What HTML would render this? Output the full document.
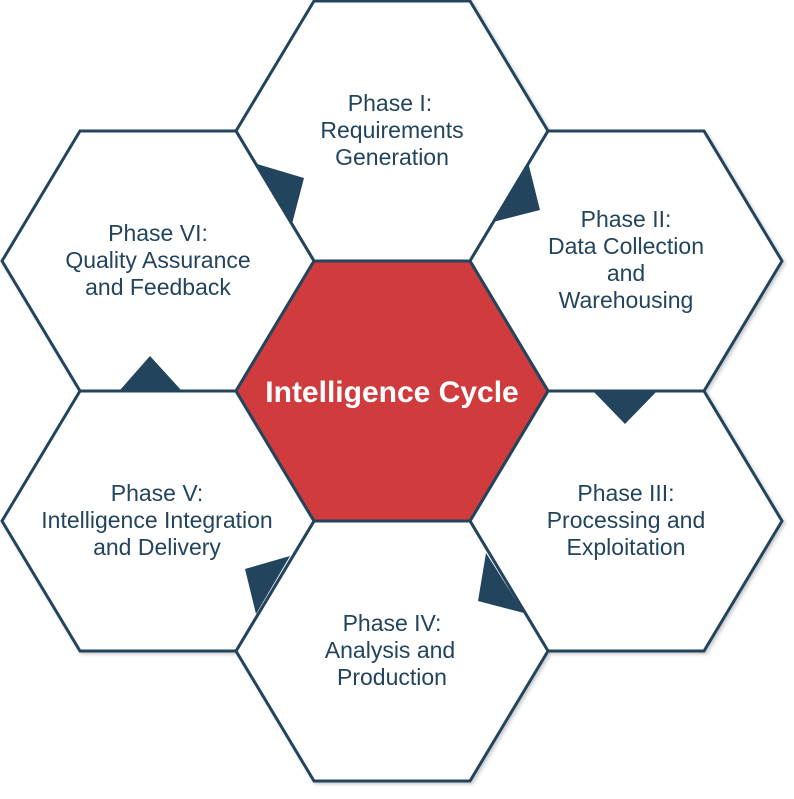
<!DOCTYPE html>
<html><head><style>html,body{margin:0;padding:0;background:#fff}</style></head>
<body>
<svg width="794" height="794" viewBox="0 0 794 794" xmlns="http://www.w3.org/2000/svg">
<defs><filter id="s" x="-5%" y="-5%" width="110%" height="110%"><feDropShadow dx="2" dy="2" stdDeviation="1.5" flood-color="#000" flood-opacity="0.2"/></filter></defs>
<g fill="#fff" stroke="#23445d" stroke-width="3" stroke-linejoin="miter" filter="url(#s)">
<polygon points="236,131 314,1 470,1 548,131 470,261 314,261"/>
<polygon points="470,261 548,131 704,131 782,261 704,391 548,391"/>
<polygon points="470,521 548,391 704,391 782,521 704,651 548,651"/>
<polygon points="236,651 314,521 470,521 548,651 470,781 314,781"/>
<polygon points="2,521 80,391 236,391 314,521 236,651 80,651"/>
<polygon points="2,261 80,131 236,131 314,261 236,391 80,391"/>
<polygon fill="#d03b3e" points="236,391 314,261 470,261 548,391 470,521 314,521"/>
</g>
<g fill="#23445d">
<polygon points="257,164 304,178 292,224"/>
<polygon points="528,162 540,210 493,222"/>
<polygon points="592,390 658,390 625,424"/>
<polygon points="486,553 524,613 478,601"/>
<polygon points="245,569 290,556 256,614"/>
<polygon points="120,390 150,356 181,390"/>
</g>
<g font-family="Liberation Sans, sans-serif" font-size="23" fill="#23445d" text-anchor="middle">
<text x="390" y="111">Phase I:</text><text x="392" y="138">Requirements</text><text x="392" y="165">Generation</text>
<text x="626" y="227">Phase II:</text><text x="626" y="254">Data Collection</text><text x="626" y="281">and</text><text x="626" y="308">Warehousing</text>
<text x="626" y="501">Phase III:</text><text x="626" y="528">Processing and</text><text x="626" y="555">Exploitation</text>
<text x="392" y="631">Phase IV:</text><text x="390" y="658">Analysis and</text><text x="392" y="685">Production</text>
<text x="157" y="501">Phase V:</text><text x="157" y="528">Intelligence Integration</text><text x="157" y="555">and Delivery</text>
<text x="158" y="241">Phase VI:</text><text x="158" y="268">Quality Assurance</text><text x="158" y="295">and Feedback</text>
<text x="392" y="402" font-size="30" font-weight="bold" fill="#fff">Intelligence Cycle</text>
</g>
</svg>
</body></html>
